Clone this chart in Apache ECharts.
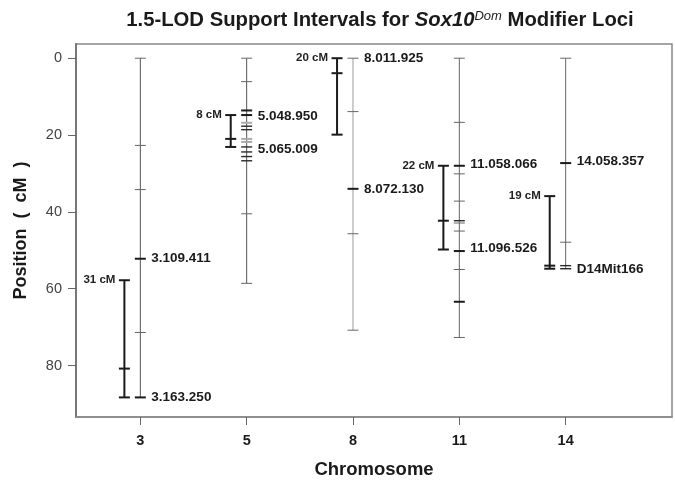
<!DOCTYPE html>
<html>
<head>
<meta charset="utf-8">
<script src="https://cdn.jsdelivr.net/npm/echarts@6/dist/echarts.min.js"></script>
<style>html,body{margin:0;padding:0;background:#fff}#c{width:675px;height:484px}</style>
</head>
<body>
<div id="c"></div>
<script>
// ---------- DATA ----------
const chromosomes = ['3', '5', '8', '11', '14'];
const chromosomeLength = [88.3, 58.6, 70.8, 72.7, 54.8];

const markerChr = [
  0, 0, 0, 0, 0, 0,
  1, 1, 1, 1, 1, 1, 1, 1, 1, 1, 1, 1, 1, 1, 1,
  2, 2, 2, 2, 2,
  3, 3, 3, 3, 3, 3, 3, 3, 3, 3, 3, 3,
  4, 4, 4, 4, 4
];
const markerPos = [
  0, 22.7, 34.2, 52.2, 71.4, 88.3,
  0, 6.1, 13.6, 14.8, 16.8, 17.7, 18.6, 21.0, 21.8, 23.1, 24.4, 25.6, 26.7, 40.5, 58.6,
  0, 13.9, 34.0, 45.7, 70.8,
  0, 16.7, 28.0, 30.1, 37.2, 42.3, 42.9, 45.0, 50.2, 55.0, 63.4, 72.7,
  0, 27.3, 47.9, 54.0, 54.8
];

const intervalChr = [0, 1, 2, 3, 4];
const intervalTop = [57.8, 14.8, 0, 28.0, 35.9];
const intervalPeak = [80.8, 21.0, 3.9, 42.3, 54.0];
const intervalBottom = [88.3, 23.1, 19.9, 49.8, 54.8];
const intervalLabel = ['31 cM', '8 cM', '20 cM', '22 cM', '19 cM'];

const labelChr = [0, 0, 1, 1, 2, 2, 3, 3, 4, 4];
const labelPos = [52.2, 88.3, 15.2, 23.7, 0, 34.0, 27.6, 49.4, 26.9, 55.0];
const labelText = ['3.109.411', '3.163.250', '5.048.950', '5.065.009', '8.011.925', '8.072.130',
  '11.058.066', '11.096.526', '14.058.357', 'D14Mit166'];

const yTicks = [0, 20, 40, 60, 80];

// ---------- STYLES ----------
// tone per marker: 0 thin grey, 1 strong black, 2 light grey, 3 medium dark
const markerTone = [
  0, 0, 0, 1, 0, 1,
  0, 0, 1, 1, 2, 3, 3, 2, 2, 3, 3, 3, 3, 0, 0,
  0, 0, 1, 0, 0,
  0, 0, 1, 0, 0, 3, 0, 0, 1, 0, 1, 0,
  0, 1, 0, 3, 3
];
const toneStyle = [
  {stroke: '#666', lineWidth: 1},
  {stroke: '#1a1a1a', lineWidth: 2},
  {stroke: '#aaa', lineWidth: 2},
  {stroke: '#2a2a2a', lineWidth: 1.4}
];
const chrLineColor = ['#555', '#555', '#9a9a9a', '#666', '#666'];
const FONT = '"Liberation Sans", Arial, Helvetica, sans-serif';
const BAR_OFFSET = -0.15;
const HALF = 5.5;

const chart = echarts.init(document.getElementById('c'), null, {renderer: 'canvas'});

const chrData = chromosomes.map((c, i) => [i, chromosomeLength[i]]);
const markerData = markerChr.map((c, i) => [c, markerPos[i], markerTone[i]]);
const intervalData = intervalChr.map((c, i) => [c, intervalTop[i], intervalPeak[i], intervalBottom[i], i]);
const labelData = labelChr.map((c, i) => [c, labelPos[i], i]);

function hLine(cx, cy, style) {
  return {type: 'line', shape: {x1: cx - HALF, y1: cy, x2: cx + HALF, y2: cy}, style: style};
}

chart.setOption({
  animation: false,
  title: {
    text: '{b|1.5-LOD Support Intervals for }{i|Sox10}{s|Dom}{b| Modifier Loci}',
    left: 375, top: 5, textAlign: 'center',
    textStyle: {
      rich: {
        b: {fontFamily: FONT, fontWeight: 'bold', fontSize: 20.3, color: '#1a1a1a'},
        i: {fontFamily: FONT, fontWeight: 'bold', fontStyle: 'italic', fontSize: 20.3, color: '#1a1a1a'},
        s: {fontFamily: FONT, fontStyle: 'italic', fontWeight: 'normal', fontSize: 13, color: '#1a1a1a', verticalAlign: 'top', padding: [0, 0, 8, 0]}
      }
    }
  },
  grid: {left: 76, right: 3, top: 44, bottom: 66, show: true, borderColor: '#888', borderWidth: 1.5},
  xAxis: {
    type: 'value', min: -0.605, max: 5.0,
    name: 'Chromosome', nameLocation: 'middle', nameGap: 43,
    nameTextStyle: {fontFamily: FONT, fontWeight: 'bold', fontSize: 18.5, color: '#1a1a1a'},
    splitLine: {show: false},
    axisLine: {show: true, onZero: false, lineStyle: {color: '#888', width: 1.5}},
    axisTick: {show: true, length: 8, customValues: [0, 1, 2, 3, 4], lineStyle: {color: '#666', width: 1}},
    axisLabel: {customValues: [0, 1, 2, 3, 4], margin: 16, fontFamily: FONT, fontWeight: 'bold', fontSize: 14.5, color: '#1a1a1a',
      formatter: v => chromosomes[Math.round(v)]}
  },
  yAxis: {
    type: 'value', inverse: true, min: -3.7, max: 93.4,
    name: 'Position  (  cM  )', nameLocation: 'middle', nameGap: 46, nameRotate: 90,
    nameTextStyle: {fontFamily: FONT, fontWeight: 'bold', fontSize: 18, color: '#1a1a1a'},
    splitLine: {show: false},
    axisLine: {show: true, onZero: false, lineStyle: {color: '#777', width: 2}},
    axisTick: {show: true, length: 8, customValues: yTicks, lineStyle: {color: '#666', width: 1}},
    axisLabel: {customValues: yTicks, margin: 14, fontFamily: FONT, fontSize: 14.5, color: '#444'}
  },
  series: [
    {
      type: 'custom', data: chrData, silent: true,
      renderItem: (params, api) => {
        const i = api.value(0);
        const a = api.coord([i, 0]);
        const b = api.coord([i, api.value(1)]);
        return {type: 'line', shape: {x1: a[0], y1: a[1], x2: b[0], y2: b[1]},
          style: {stroke: chrLineColor[i], lineWidth: 1}};
      }
    },
    {
      type: 'custom', data: markerData, silent: true,
      renderItem: (params, api) => {
        const p = api.coord([api.value(0), api.value(1)]);
        const s = toneStyle[api.value(2)];
        return hLine(p[0], p[1], {stroke: s.stroke, lineWidth: s.lineWidth});
      }
    },
    {
      type: 'custom', data: intervalData, silent: true,
      renderItem: (params, api) => {
        const x = api.value(0) + BAR_OFFSET;
        const t = api.coord([x, api.value(1)]);
        const m = api.coord([x, api.value(2)]);
        const b = api.coord([x, api.value(3)]);
        const st = {stroke: '#1a1a1a', lineWidth: 2};
        return {type: 'group', children: [
          {type: 'line', shape: {x1: t[0], y1: t[1], x2: b[0], y2: b[1]}, style: st},
          hLine(t[0], t[1], st), hLine(m[0], m[1], st), hLine(b[0], b[1], st),
          {type: 'text', x: t[0] - 9, y: t[1], style: {text: intervalLabel[api.value(4)], align: 'right', verticalAlign: 'middle',
            fontFamily: FONT, fontWeight: 'bold', fontSize: 11.5, fill: '#222'}}
        ]};
      }
    },
    {
      type: 'custom', data: labelData, silent: true,
      renderItem: (params, api) => {
        const p = api.coord([api.value(0), api.value(1)]);
        return {type: 'text', x: p[0] + 11, y: p[1], style: {text: labelText[api.value(2)], align: 'left', verticalAlign: 'middle',
          fontFamily: FONT, fontWeight: 'bold', fontSize: 13.5, fill: '#1a1a1a'}};
      }
    }
  ]
});
</script>
</body>
</html>
